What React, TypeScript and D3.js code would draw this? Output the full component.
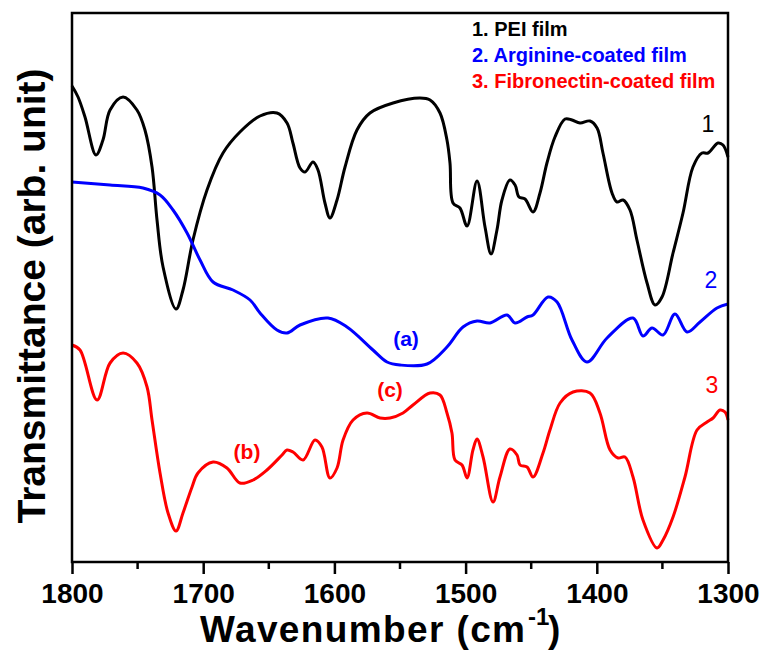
import * as d3 from "d3";
import { useRef, useEffect } from "react";

const width = 765;
const height = 651;
const margin = { top: 13, right: 37, bottom: 89, left: 72 };

// wavenumber (cm-1) / transmittance (arb. unit)
const peiWave = [1800, 1795.4, 1790.1, 1781.7, 1776.4, 1771, 1761.1, 1750.5, 1744.4, 1739, 1735.2, 1730.6, 1720.7, 1715.4, 1707.8, 1697.1, 1684.9, 1672, 1656.7, 1643.8, 1636.1, 1631.6, 1626.2, 1622.4, 1616.3, 1612.5, 1607.2, 1603.4, 1598, 1591.9, 1582.8, 1572.9, 1555.3, 1534.8, 1527.1, 1519.5, 1514.2, 1511.9, 1509.6, 1504.3, 1498.9, 1491.3, 1485.2, 1480.6, 1476.1, 1472.3, 1466.2, 1462.3, 1459.3, 1454.7, 1448.6, 1443.3, 1438, 1431.9, 1424.2, 1418.9, 1412.8, 1405.2, 1399.8, 1395.3, 1388.4, 1384.6, 1380, 1374.7, 1369.4, 1361.7, 1355.6, 1350.3, 1341.9, 1334.3, 1326.7, 1319.8, 1315.2, 1307.6, 1303.8, 1300];
const peiT = [95.2, 93, 89, 81.4, 84.4, 90.4, 93, 90.4, 86.4, 79, 68.4, 59, 50.6, 54.4, 64.4, 74.4, 81.8, 86, 89.2, 89.8, 87.8, 83.8, 78.8, 78, 80, 78.4, 71.8, 68.8, 72.4, 79, 86.4, 89.8, 91.8, 92.8, 92.4, 89.8, 84.4, 79.8, 71.8, 70.8, 67.2, 76.2, 67, 61.6, 66.4, 72.4, 76.4, 75.4, 73, 72.6, 70, 73.8, 79.8, 85, 88.6, 88.4, 87.8, 88.2, 86.8, 81.8, 73.8, 72, 72.4, 70.4, 64.4, 55.8, 51.4, 53, 61.8, 69.8, 79, 81.8, 81.8, 83.8, 83.4, 81];

const argWave = [1800, 1771, 1745.9, 1732.9, 1723, 1712.3, 1702.4, 1692.5, 1677.3, 1664.3, 1656.7, 1643.8, 1636.1, 1626.2, 1604.9, 1590.4, 1570.6, 1559.9, 1550, 1529.4, 1514.2, 1502, 1491.3, 1481.4, 1468.4, 1462.3, 1453.2, 1448.6, 1437.2, 1430.3, 1418.9, 1407.5, 1392.2, 1372.4, 1364.8, 1357.9, 1349.5, 1340.4, 1331.2, 1321.3, 1308.4, 1300];
const argT = [76, 75.4, 74.8, 73.4, 70.4, 65.8, 60.4, 56, 54.4, 52.4, 49.8, 46.4, 45.8, 47.4, 48.8, 47, 42.4, 40, 39.4, 39.6, 43, 47, 48.2, 47.8, 49.4, 47.8, 49, 49.4, 53, 52, 44.4, 40, 44.8, 48.8, 45.2, 46.8, 45.4, 49.6, 46, 48, 50.8, 51.6];

const fnWave = [1800, 1793.9, 1780.9, 1771, 1761.1, 1750.5, 1742.8, 1739, 1732.9, 1726.8, 1720.7, 1715.4, 1708.5, 1704, 1692.5, 1681.9, 1672, 1662, 1651.4, 1639.9, 1636.1, 1631.6, 1623.9, 1614.8, 1609.5, 1603.4, 1598, 1593.4, 1585.8, 1575.2, 1565.2, 1557.6, 1547.7, 1540.1, 1527.1, 1519.5, 1514.2, 1510.4, 1508.1, 1502.7, 1498.9, 1494.4, 1491.3, 1486.7, 1479.1, 1473.8, 1466.2, 1460.8, 1458.5, 1453.2, 1448.6, 1441, 1435.7, 1428, 1418.1, 1405.2, 1397.6, 1389.9, 1383.8, 1378.5, 1372.4, 1364.8, 1354.1, 1349.5, 1341.9, 1332.8, 1323.6, 1316, 1311.4, 1306.1, 1302.3, 1300];
const fnT = [43.4, 42.4, 32.4, 39.8, 41.8, 39.8, 35, 28.4, 17.8, 9.8, 6.2, 9.8, 15, 17.8, 20, 18.8, 15.8, 16.4, 18.4, 21.4, 22.4, 22, 20.4, 24.4, 23, 16.8, 18.8, 24.4, 28.4, 29.8, 28.8, 28.8, 29.8, 31.4, 33.8, 33.4, 29.8, 25.8, 20.4, 19.4, 16.8, 22.4, 24.6, 21, 12, 17, 22.6, 21.4, 19.4, 19, 17, 21.8, 26.4, 31.8, 34, 33.8, 29.8, 22.4, 20.8, 21, 17, 8.4, 2.8, 4.4, 9, 17, 26.4, 28, 28.8, 30.4, 30, 28.4];

const majorTicks = [1800, 1700, 1600, 1500, 1400, 1300];
const minorTicks = [1750, 1650, 1550, 1450, 1350];

const legendLabels = ["1. PEI film", "2. Arginine-coated film", "3. Fibronectin-coated film"];
const colors = ["#000000", "#0000ff", "#ff0000"];

const font = "Arial, 'Liberation Sans', sans-serif";

export default function App() {
  const svgRef = useRef<SVGSVGElement>(null);

  useEffect(() => {
    const svg = d3.select(svgRef.current);
    svg.selectAll("*").remove();

    const x = d3.scaleLinear()
      .domain([1800, 1300])
      .range([margin.left, width - margin.right]);
    const y = d3.scaleLinear()
      .domain([0, 109.8])
      .range([height - margin.bottom, margin.top]);

    const series = [
      { wave: peiWave, t: peiT, color: colors[0] },
      { wave: argWave, t: argT, color: colors[1] },
      { wave: fnWave, t: fnT, color: colors[2] },
    ];

    const line = d3.line<[number, number]>()
      .x(d => x(d[0]))
      .y(d => y(d[1]))
      .curve(d3.curveCatmullRom.alpha(0.5));

    series.forEach(s => {
      svg.append("path")
        .attr("d", line(s.wave.map((w, i) => [w, s.t[i]] as [number, number])))
        .attr("fill", "none")
        .attr("stroke", s.color)
        .attr("stroke-width", 3)
        .attr("stroke-linejoin", "round");
    });

    // frame
    svg.append("rect")
      .attr("x", margin.left)
      .attr("y", margin.top)
      .attr("width", width - margin.left - margin.right)
      .attr("height", height - margin.top - margin.bottom)
      .attr("fill", "none")
      .attr("stroke", "#000")
      .attr("stroke-width", 2.5);

    // bottom axis
    const xAxis = svg.append("g")
      .attr("transform", `translate(0,${height - margin.bottom})`)
      .call(d3.axisBottom(x).tickValues(majorTicks).tickSize(12).tickSizeOuter(0).tickFormat(d3.format("d")));
    xAxis.select(".domain").remove();
    xAxis.selectAll(".tick line").attr("stroke-width", 2.5);
    xAxis.selectAll(".tick text")
      .attr("font-family", font)
      .attr("font-size", 28)
      .attr("font-weight", "bold")
      .attr("fill", "#000")
      .attr("dy", "0")
      .attr("y", 41);

    svg.append("g")
      .selectAll("line")
      .data(minorTicks)
      .join("line")
      .attr("x1", d => x(d))
      .attr("x2", d => x(d))
      .attr("y1", height - margin.bottom)
      .attr("y2", height - margin.bottom + 7)
      .attr("stroke", "#000")
      .attr("stroke-width", 2.5);

    // axis titles
    const xt = svg.append("text")
      .attr("y", 642)
      .attr("font-family", font)
      .attr("font-size", 37)
      .attr("font-weight", "bold")
      .attr("fill", "#000");
    xt.append("tspan").attr("x", 200).attr("textLength", 325).text("Wavenumber (cm");
    xt.append("tspan").attr("x", 528).attr("font-size", 24).attr("dy", -17).text("-1");
    xt.append("tspan").attr("x", 548).attr("dy", 17).text(")");

    svg.append("text")
      .attr("transform", `translate(45,${296}) rotate(-90)`)
      .attr("text-anchor", "middle")
      .attr("font-family", font)
      .attr("font-size", 39)
      .attr("font-weight", "bold")
      .attr("fill", "#000")
      .text("Transmittance (arb. unit)");

    // legend
    legendLabels.forEach((label, i) => {
      svg.append("text")
        .attr("x", 472)
        .attr("y", 36 + i * 26)
        .attr("font-family", font)
        .attr("font-size", 20)
        .attr("font-weight", "bold")
        .attr("fill", colors[i])
        .text(label);
    });

    // curve numbers
    const nums = [
      { t: "1", x: 708, y: 132, c: colors[0] },
      { t: "2", x: 711, y: 288, c: colors[1] },
      { t: "3", x: 712, y: 393, c: colors[2] },
    ];
    nums.forEach(n => {
      svg.append("text")
        .attr("x", n.x).attr("y", n.y)
        .attr("text-anchor", "middle")
        .attr("font-family", font)
        .attr("font-size", 23)
        .attr("fill", n.c)
        .text(n.t);
    });

    // band labels
    const bands = [
      { t: "(a)", x: 406, y: 346, c: colors[1] },
      { t: "(b)", x: 247, y: 459, c: colors[2] },
      { t: "(c)", x: 390, y: 397, c: colors[2] },
    ];
    bands.forEach(b => {
      svg.append("text")
        .attr("x", b.x).attr("y", b.y)
        .attr("text-anchor", "middle")
        .attr("font-family", font)
        .attr("font-size", 21)
        .attr("font-weight", "bold")
        .attr("fill", b.c)
        .text(b.t);
    });
  }, []);

  return (
    <svg
      ref={svgRef}
      width={width}
      height={height}
      style={{ position: "absolute", left: 0, top: 0, background: "#fff" }}
    />
  );
}
